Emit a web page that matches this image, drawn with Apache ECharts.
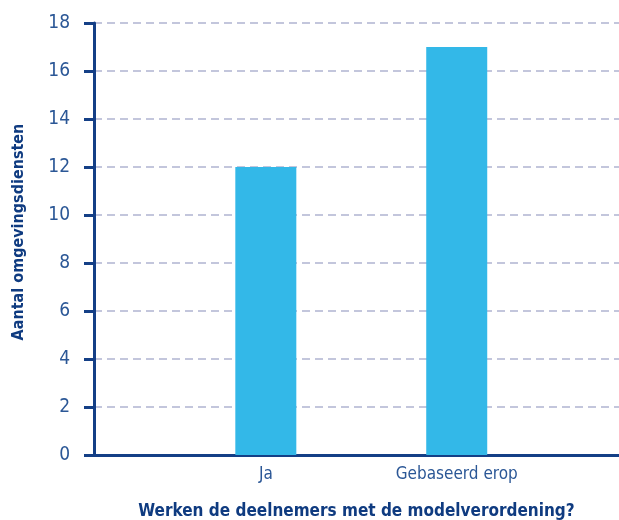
<!DOCTYPE html>
<html>
<head>
<meta charset="utf-8">
<script src="https://cdn.jsdelivr.net/npm/echarts@6/dist/echarts.min.js"></script>
<style>
  html, body { margin: 0; padding: 0; background: #fff; }
  #chart { width: 619px; height: 520px; }
</style>
</head>
<body>
<div id="chart"></div>
<script>
const categories = ['Ja', 'Gebaseerd erop']
const values = [12, 17]
const yTicks = [0, 2, 4, 6, 8, 10, 12, 14, 16, 18]

const axisBlue = '#143f86'
const labelBlue = '#2b5796'
const font = '"DejaVu Sans Condensed", "Liberation Sans Narrow", sans-serif'

const chart = echarts.init(document.getElementById('chart'))

chart.setOption({
  animation: false,
  grid: { left: 94, right: 0, top: 23, bottom: 65, outerBoundsMode: 'none' },
  xAxis: {
    type: 'value',
    min: 0.1,
    max: 2.85,
    name: 'Werken de deelnemers met de modelverordening?',
    nameLocation: 'middle',
    nameGap: 48,
    nameTextStyle: { fontFamily: font, fontWeight: 'bold', fontSize: 17, color: '#0f3b80' },
    axisLine: { lineStyle: { color: axisBlue, width: 3 } },
    axisTick: { show: false },
    splitLine: { show: false },
    axisLabel: {
      customValues: categories.map((_, i) => i + 1),
      formatter: (v) => categories[Math.round(v) - 1] || '',
      fontFamily: font,
      fontSize: 17,
      color: labelBlue,
      margin: 11
    }
  },
  yAxis: {
    type: 'value',
    min: yTicks[0],
    max: yTicks[yTicks.length - 1],
    interval: 2,
    name: 'Aantal omgevingsdiensten',
    nameLocation: 'middle',
    nameGap: 67,
    nameTextStyle: { fontFamily: font, fontWeight: 'bold', fontSize: 16, color: '#0f3b80', padding: [0, 0, 0, 14] },
    axisLine: { show: true, onZero: false, lineStyle: { color: axisBlue, width: 3 } },
    axisTick: { show: true, length: 10, lineStyle: { color: axisBlue, width: 3 } },
    axisLabel: { fontFamily: font, fontSize: 19, color: labelBlue, margin: 24 },
    splitLine: { lineStyle: { color: '#c3c6dc', type: [8, 5], width: 2 } }
  },
  series: [{
    type: 'bar',
    barWidth: 61,
    itemStyle: { color: '#33b8e8' },
    data: values.map((v, i) => [i + 1, v])
  }]
})
</script>
</body>
</html>
